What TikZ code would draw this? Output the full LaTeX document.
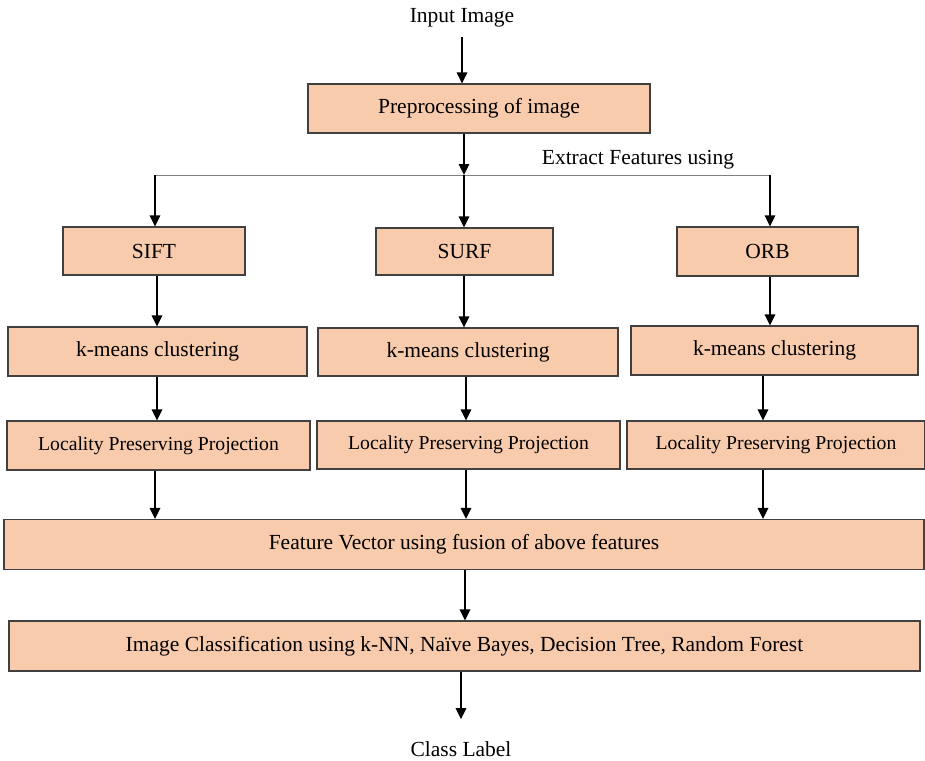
\documentclass[tikz,border=0pt]{standalone}
\usepackage{fontspec}
\setmainfont{Liberation Serif}
\usetikzlibrary{arrows.meta}
\definecolor{peach}{HTML}{F8CBAD}
\definecolor{edge}{HTML}{404040}
\begin{document}
\begin{tikzpicture}[x=1pt,y=-1pt,
  box/.style={draw=edge,line width=1.2pt,fill=peach,inner sep=0pt,font=\fontsize{21.5}{24}\selectfont},
  smallbox/.style={box,font=\fontsize{19.7}{22}\selectfont},
  lbl/.style={inner sep=0pt,font=\fontsize{21.5}{24}\selectfont},
  arr/.style={line width=1.5pt,-{Triangle[length=11pt,width=10.5pt]}}]
\useasboundingbox (0,0) rectangle (925,760);
% nodes
\node[lbl] (input) at (462,18) {Input Image};
\node[box,minimum width=342pt,minimum height=49pt] (pre) at (479,108.5) {Preprocessing of image};
\node[box,minimum width=182pt,minimum height=48pt] (sift) at (154,251) {SIFT};
\node[box,minimum width=177pt,minimum height=47pt] (surf) at (464.5,251.5) {SURF};
\node[box,minimum width=181pt,minimum height=49pt] (orb) at (767.5,251.5) {ORB};
\node[box,minimum width=299pt,minimum height=49pt] (km1) at (157.5,351.5) {k-means clustering};
\node[box,minimum width=300pt,minimum height=48pt] (km2) at (468,352) {k-means clustering};
\node[box,minimum width=287pt,minimum height=49pt] (km3) at (774.5,350.5) {k-means clustering};
\node[smallbox,minimum width=303pt,minimum height=49pt] (lpp1) at (158.5,445.5) {Locality Preserving Projection};
\node[smallbox,minimum width=303pt,minimum height=48pt] (lpp2) at (468.5,445) {Locality Preserving Projection};
\node[smallbox,minimum width=298pt,minimum height=48pt] (lpp3) at (776,445) {Locality Preserving Projection};
\node[box,minimum width=920pt,minimum height=50pt] (fv) at (464,544.5) {Feature Vector using fusion of above features};
\node[box,minimum width=911pt,minimum height=50pt] (cls) at (464.5,646) {Image Classification using k-NN, Na\"ive Bayes, Decision Tree, Random Forest};
\node[lbl] (out) at (461,749) {Class Label};
\node[lbl] (ext) at (638,160) {Extract Features using};
% column coordinates
\coordinate (xa) at (462,0);
\coordinate (xs) at (464,0);
\coordinate (c1) at (157,0);
\coordinate (c2) at (466,0);
\coordinate (c3) at (763,0);
\coordinate (c4) at (465,0);
\coordinate (c5) at (461,0);
\coordinate (jl) at (155,175);
\coordinate (jm) at (464,175);
\coordinate (jr) at (770,175);
% connectors
\draw[arr] ([yshift=-9pt]input.south -| xa) -- (pre.north -| xa);
\draw[arr] (pre.south -| xs) -- (jm);
\draw[line width=1pt,draw=gray] (jl) -- (jr);
\draw[arr] (jm) -- (surf.north -| jm);
\draw[arr] (jl) -- (sift.north -| jl);
\draw[arr] (jr) -- (orb.north -| jr);
\draw[arr] (sift.south -| c1) -- (km1.north -| c1);
\draw[arr] (km1.south -| c1) -- (lpp1.north -| c1);
\draw[arr] (lpp1.south -| jl) -- (fv.north -| jl);
\draw[arr] (surf.south -| xs) -- (km2.north -| xs);
\draw[arr] (km2.south -| c2) -- (lpp2.north -| c2);
\draw[arr] (lpp2.south -| c2) -- (fv.north -| c2);
\draw[arr] (orb.south -| jr) -- (km3.north -| jr);
\draw[arr] (km3.south -| c3) -- (lpp3.north -| c3);
\draw[arr] (lpp3.south -| c3) -- (fv.north -| c3);
\draw[arr] (fv.south -| c4) -- (cls.north -| c4);
\draw[arr] (cls.south -| c5) -- ([yshift=22pt]out.north -| c5);
\end{tikzpicture}
\end{document}
